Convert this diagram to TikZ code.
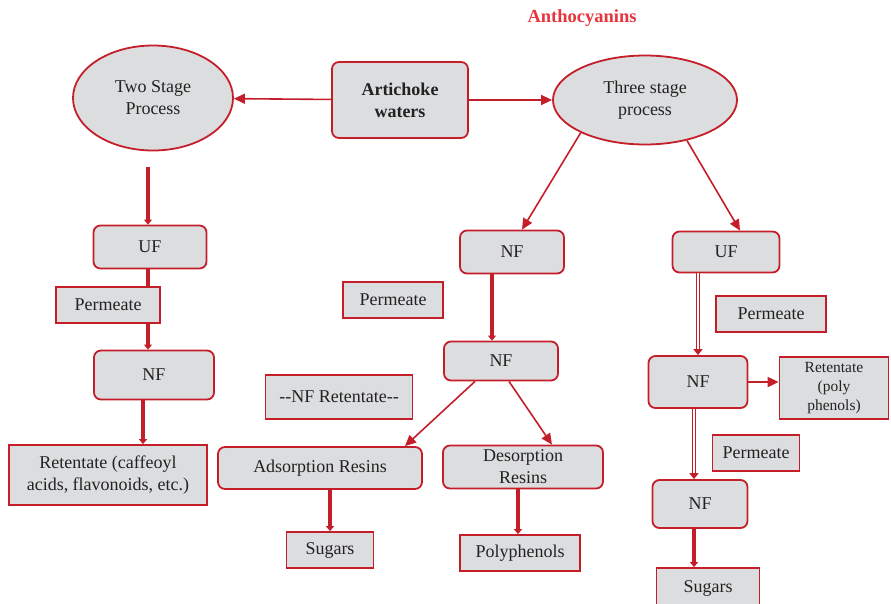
\documentclass[tikz,border=0pt]{standalone}
\usepackage{fontspec}
\setmainfont{Liberation Serif}
\usetikzlibrary{arrows.meta,shapes.geometric}
\definecolor{boxred}{HTML}{C41E2A}
\definecolor{boxgray}{HTML}{DCDDDF}
\definecolor{titlered}{HTML}{E8343C}
\definecolor{txtgray}{HTML}{222222}

\begin{document}
\begin{tikzpicture}[x=1pt,y=-1pt,>=Triangle,
  font=\fontsize{18}{22}\selectfont,
  box/.style={draw=boxred,fill=boxgray,line width=1.8pt,text=txtgray,
    align=center,inner sep=0pt},
  rbox/.style={box,rounded corners=7pt},
  oval/.style={box,ellipse},
  flow/.style={draw=boxred,line width=3.2pt,-{Triangle[length=5pt,width=8pt]}},
  slant/.style={draw=boxred,line width=1.6pt,-{Triangle[length=11pt,width=10pt]}},
  dbl/.style={draw=boxred,double=white,double distance=1.2pt,line width=1.6pt,
    -{Triangle[length=6pt,width=9pt]}}]
\useasboundingbox (0,0) rectangle (891,603);

\node[text=titlered,font=\fontsize{18.5}{22}\selectfont\bfseries] (title) at (582,18) {Anthocyanins};

% top row
\node[rbox,minimum width=136pt,minimum height=76pt,font=\fontsize{18}{22}\selectfont\bfseries]
  (water) at (400,100) {Artichoke\\waters};
\node[oval,minimum width=160pt,minimum height=105pt] (two) at (153,98) {Two Stage\\Process};
\node[oval,minimum width=184pt,minimum height=89pt] (three) at (645,100) {Three stage\\process};

% two stage column
\node[rbox,minimum width=113pt,minimum height=43pt] (ufl) at (150,247) {UF};
\node[rbox,minimum width=120pt,minimum height=49pt] (nfl) at (154,375) {NF};
\node[box,minimum width=198pt,minimum height=60pt] (retl) at (108,475)
  {Retentate (caffeoyl\\acids, flavonoids, etc.)};

% three stage, middle branch
\node[rbox,minimum width=104pt,minimum height=43pt] (nfa) at (512,252) {NF};
\node[box,minimum width=100pt,minimum height=36pt] (perma) at (393,300) {Permeate};
\node[rbox,minimum width=114pt,minimum height=39pt] (nfb) at (501,361) {NF};
\node[box,minimum width=147pt,minimum height=44pt] (nfret) at (339,397) {-{}-NF Retentate-{}-};
\node[rbox,minimum width=204pt,minimum height=42pt] (ads) at (320,468) {Adsorption Resins};
\node[rbox,minimum width=160pt,minimum height=43pt] (des) at (523,467) {Desorption\\Resins};
\node[box,minimum width=87pt,minimum height=36pt] (suga) at (330,550) {Sugars};
\node[box,minimum width=120pt,minimum height=36pt] (poly) at (520,553) {Polyphenols};

% three stage, right branch
\node[rbox,minimum width=107pt,minimum height=41pt] (ufr) at (726,252) {UF};
\node[box,minimum width=110pt,minimum height=36pt] (permr) at (771,314) {Permeate};
\node[rbox,minimum width=99pt,minimum height=52pt] (nfr) at (698,382) {NF};
\node[box,minimum width=109pt,minimum height=62pt,font=\fontsize{15.5}{19}\selectfont]
  (retr) at (834,388) {Retentate\\(poly\\phenols)};
\node[box,minimum width=87pt,minimum height=36pt] (permr2) at (756,453) {Permeate};
\node[rbox,minimum width=95pt,minimum height=48pt] (nfc) at (700,504) {NF};
\node[box,minimum width=103pt,minimum height=40pt] (sugr) at (708,588) {Sugars};

% connectors
\draw[slant] (water) -- (two);
\draw[slant] (water) -- (three);

\draw[flow,shorten <=16pt] ([xshift=-5pt]two.south) -- ([xshift=-2pt]ufl.north);
\draw[flow] ([xshift=-2pt]ufl.south) -- ([xshift=-2pt]ufl.south |- nfl.north);
\draw[flow] ([xshift=-11pt]nfl.south) -- ([xshift=-11pt]nfl.south |- retl.north);

\draw[slant] (three.207) -- ([xshift=10pt]nfa.north);
\draw[flow] ([xshift=-20pt]nfa.south) -- ([xshift=-20pt]nfa.south |- nfb.north);
\draw[slant] ([xshift=-26pt]nfb.south) -- ([xshift=85pt]ads.north);
\draw[slant] ([xshift=8pt]nfb.south) -- ([xshift=29pt]des.north);
\draw[flow] (suga.north |- ads.south) -- (suga.north);
\draw[flow] ([xshift=-2pt]poly.north |- des.south) -- ([xshift=-2pt]poly.north);

\draw[slant] (three.316) -- ([xshift=14pt]ufr.north);
\draw[dbl] (nfr.north |- ufr.south) -- (nfr.north);
\draw[slant,line width=2pt] (nfr.east) -- (nfr.east -| retr.west);
\draw[dbl] ([xshift=-4pt]nfr.south) -- ([xshift=-4pt]nfr.south |- nfc.north);
\draw[flow] ([xshift=-6pt]nfc.south) -- ([xshift=-6pt]nfc.south |- sugr.north);

% drawn last so it sits over the UF-NF line
\node[box,minimum width=104pt,minimum height=36pt] (perml) at (108,305) {Permeate};
\end{tikzpicture}
\end{document}
